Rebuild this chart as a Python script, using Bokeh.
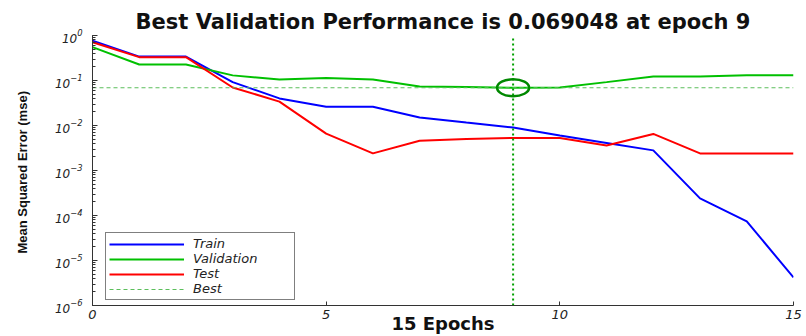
from bokeh.plotting import figure
from bokeh.models import Legend, LegendItem, FixedTicker, LogTicker
from bokeh.embed import file_html
from bokeh.resources import INLINE

# ---- data ----
epochs = list(range(16))
train = [0.77, 0.34, 0.34, 0.092, 0.040, 0.026, 0.026, 0.015, 0.0116, 0.0090,
         0.0060, 0.0041, 0.0028, 0.00024, 0.000074, 0.0000042]
validation = [0.55, 0.227, 0.227, 0.13, 0.105, 0.114, 0.105, 0.0735, 0.072, 0.069048,
              0.070, 0.092, 0.123, 0.123, 0.13, 0.13]
test = [0.71, 0.33, 0.33, 0.070, 0.034, 0.0066, 0.0024, 0.0046, 0.0050, 0.0053,
        0.0053, 0.0036, 0.0065, 0.0024, 0.0024, 0.0024]
best_epoch = 9
best_perf = 0.069048
x_ticks = [0, 5, 10, 15]
y_limits = [1e-6, 1e0]
series_names = ["Train", "Validation", "Test", "Best"]

p = figure(width=806, height=336, y_axis_type="log",
           x_range=(epochs[0], epochs[-1]), y_range=(y_limits[0], y_limits[1]),
           output_backend="svg", toolbar_location=None,
           min_border_left=92, min_border_right=13, min_border_top=35,
           min_border_bottom=31)

p.title.text = f"Best Validation Performance is {best_perf} at epoch {best_epoch}"
p.title.align = "center"
p.title.text_font = "DejaVu Sans"
p.title.text_font_style = "bold"
p.title.text_font_size = "21px"
p.title.text_color = "#111111"
p.title.standoff = 3
p.title.offset = 0

p.outline_line_color = None
p.xgrid.visible = False
p.ygrid.visible = False
p.background_fill_color = "white"
p.border_fill_color = "white"

r_train = p.line(epochs, train, line_color="#0000FF", line_width=2)
r_val = p.line(epochs, validation, line_color="#00C000", line_width=2)
r_test = p.line(epochs, test, line_color="#FF0000", line_width=2)
r_best = p.line([epochs[0], epochs[-1]], [best_perf, best_perf],
                line_color="#5cbf5c", line_width=1.2, line_dash="4 3")
p.line([best_epoch, best_epoch], y_limits, line_color="#00A000",
       line_width=2, line_dash="2 3")
p.ellipse(x=[best_epoch], y=[best_perf], width=32, height=17,
          width_units="screen", height_units="screen",
          fill_alpha=0, line_color="#008800", line_width=2.5)

# axes
xa = p.xaxis[0]
xa.ticker = FixedTicker(ticks=x_ticks, minor_ticks=[])
xa.axis_label = f"{epochs[-1]} Epochs"
xa.axis_label_text_font = "DejaVu Sans"
xa.axis_label_text_font_style = "bold"
xa.axis_label_text_font_size = "18px"
xa.axis_label_text_color = "#111111"
xa.axis_label_standoff = -9
xa.major_label_text_font = "DejaVu Sans"
xa.major_label_text_font_style = "italic"
xa.major_label_text_font_size = "13px"
xa.major_label_text_color = "#222222"
xa.major_label_standoff = 4
xa.major_tick_in = 4
xa.major_tick_out = 0
xa.axis_line_color = "#333333"
xa.major_tick_line_color = "#333333"

ya = p.yaxis[0]
ya.ticker = LogTicker(num_minor_ticks=10)
ya.axis_label = "Mean Squared Error  (mse)"
ya.axis_label_text_font = "Liberation Sans"
ya.axis_label_text_font_style = "bold"
ya.axis_label_text_font_size = "13px"
ya.axis_label_text_color = "#111111"
ya.axis_label_standoff = 22
ya.major_label_text_font = "DejaVu Sans"
ya.major_label_text_font_style = "italic"
ya.major_label_text_font_size = "12px"
ya.major_label_text_color = "#222222"
ya.major_label_standoff = 10
ya.major_tick_in = 5
ya.major_tick_out = 0
ya.minor_tick_in = 3
ya.minor_tick_out = 0
ya.axis_line_color = "#333333"
ya.major_tick_line_color = "#333333"
ya.minor_tick_line_color = "#333333"

legend = Legend(items=[LegendItem(label=series_names[0], renderers=[r_train]),
                       LegendItem(label=series_names[1], renderers=[r_val]),
                       LegendItem(label=series_names[2], renderers=[r_test]),
                       LegendItem(label=series_names[3], renderers=[r_best])],
                location=(13, 5), margin=0, padding=3, spacing=0,
                glyph_width=75, glyph_height=14, label_height=14,
                label_width=98, label_standoff=9,
                border_line_color="black", border_line_width=1,
                background_fill_color="white", background_fill_alpha=1,
                label_text_font="DejaVu Sans", label_text_font_style="italic",
                label_text_font_size="13px", label_text_color="#222222")
p.add_layout(legend, "center")

open("out.html", "w").write(file_html(p, INLINE))
